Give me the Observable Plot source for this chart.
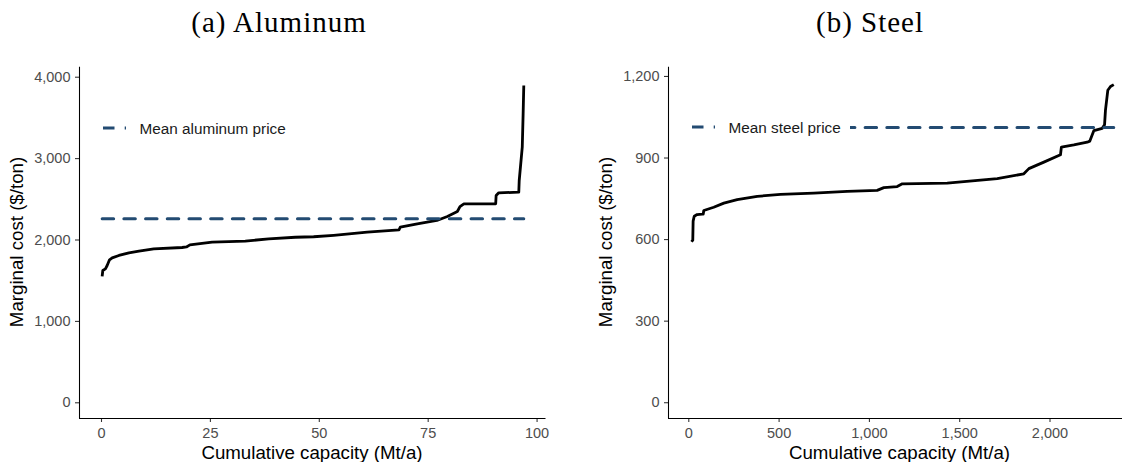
<!DOCTYPE html>
<html><head><meta charset="utf-8">
<script src="https://cdn.jsdelivr.net/npm/d3@7"></script>
<script src="https://cdn.jsdelivr.net/npm/@observablehq/plot@0.6"></script>
<style>
html,body{margin:0;padding:0;background:#fff;overflow:hidden}
#wrap{position:relative;width:1122px;height:462px;overflow:hidden;background:#fff}
#wrap > svg{position:absolute;top:0}
</style></head><body><div id="wrap"></div>
<script>
// ---- data ----
const panelTitles = ["(a) Aluminum", "(b) Steel"];
const xAxisTitle = "Cumulative capacity (Mt/a)";
const yAxisTitle = "Marginal cost ($/ton)";
const legendLabels = ["Mean aluminum price", "Mean steel price"];

const alCapacity = [0.15,0.3,0.9,1.3,1.84,2.45,4,6.3,8.6,12,18.5,19.5,20.3,25.4,33,38.4,44.5,48.7,53.3,61,68.3,68.6,72.5,77,79.4,81.7,82.3,83.2,90.5,90.6,91.2,95.8,95.9,96.6,96.8,96.95];
const alCost     = [1552,1625,1646,1687,1757,1781,1810,1843,1862,1891,1908,1915,1940,1973,1986,2015,2034,2040,2058,2096,2125,2157,2199,2240,2289,2350,2411,2445,2445,2547,2580,2587,2731,3140,3550,3898];
const alMeanPrice = 2260;
const alTicksX = [0,25,50,75,100];
const alTicksY = [0,1000,2000,3000,4000];

const stCapacity = [15,22,24,30,46,74,80,83,138,194,268,379,508,692,877,1043,1080,1154,1182,1431,1708,1855,1883,1966,2058,2063,2132,2206,2220,2243,2289,2302,2307,2320,2335,2353];
const stCost     = [592,598,668,686,692,694,694,707,719,734,747,759,766,771,777,781,791,795,805,808,824,842,861,885,912,940,948,958,962,1001,1009,1022,1075,1149,1163,1170];
const stMeanPrice = 1012;
const stTicksX = [0,500,1000,1500,2000];
const stTicksY = [0,300,600,900,1200];

const lineColor = "#234b72";
const fmt = d3.format(",");

function panel(o) {
  const data = o.cap.map((c, i) => ({x: c, y: o.cost[i]}));
  const mean = [{x: o.cap[0], y: o.mean}, {x: o.cap[o.cap.length - 1], y: o.mean}];
  return Plot.plot({
    width: o.width, height: 462,
    marginLeft: o.marginLeft, marginRight: o.marginRight, marginTop: 66.7, marginBottom: 44,
    style: {background: "transparent", fontFamily: "'Liberation Sans', Arial, sans-serif", overflow: "visible"},
    x: {domain: o.xDomain},
    y: {domain: o.yDomain},
    marks: [
      Plot.axisX({ticks: o.xt, tickFormat: fmt, tickSize: 4, tickPadding: 5, fontSize: 14.5, fill: "#4d4d4d", stroke: "#333", strokeWidth: 1.07, label: null}),
      Plot.axisY({ticks: o.yt, tickFormat: fmt, tickSize: 4, tickPadding: 5, fontSize: 14.5, fill: "#4d4d4d", stroke: "#333", strokeWidth: 1.07, label: null}),
      Plot.ruleX([o.xDomain[0]], {stroke: "black", strokeWidth: 1.07}),
      Plot.ruleY([o.yDomain[0]], {stroke: "black", strokeWidth: 1.07}),
      Plot.line(data, {x: "x", y: "y", stroke: "black", strokeWidth: 2.8, strokeLinejoin: "round", strokeLinecap: "butt"}),
      Plot.line(mean, {x: "x", y: "y", stroke: lineColor, strokeWidth: 3, strokeDasharray: "11.5 10.2"})
    ]
  });
}

const wrap = document.getElementById("wrap");
const p1 = panel({cap: alCapacity, cost: alCost, mean: alMeanPrice, xt: alTicksX, yt: alTicksY,
  xDomain: [-5.05, 102.05], yDomain: [-193, 4123], width: 560, marginLeft: 79, marginRight: 14.5});
p1.style.left = "0px";
wrap.appendChild(p1);
const p2 = panel({cap: stCapacity, cost: stCost, mean: stMeanPrice, xt: stTicksX, yt: stTicksY,
  xDomain: [-112.4, 2401.4], yDomain: [-58, 1234], width: 562, marginLeft: 108, marginRight: 0});
p2.style.left = "560px";
wrap.appendChild(p2);

// ---- overlay texts & legends ----
const ov = d3.select(wrap).append("svg").attr("width", 1122).attr("height", 462)
  .style("left", "0px").style("pointer-events", "none");
const sans = "'Liberation Sans', Arial, sans-serif";
const serif = "'Liberation Serif', 'Times New Roman', serif";
[[279, panelTitles[0]], [870, panelTitles[1]]].forEach(([x, t]) => {
  ov.append("text").attr("x", x).attr("y", 32).attr("text-anchor", "middle")
    .attr("font-family", serif).attr("font-size", 29).attr("letter-spacing", "1px").attr("fill", "#000").text(t);
});
[[312, 458.5], [899.5, 458.5]].forEach(([x, y]) => {
  ov.append("text").attr("x", x).attr("y", y).attr("text-anchor", "middle")
    .attr("font-family", sans).attr("font-size", 18.7).attr("fill", "#000").text(xAxisTitle);
});
[[23, 242], [612, 242]].forEach(([x, y]) => {
  ov.append("text").attr("transform", `translate(${x},${y}) rotate(-90)`).attr("text-anchor", "middle")
    .attr("font-family", sans).attr("font-size", 18.7).attr("fill", "#000").text(yAxisTitle);
});
function legend(x0, y, boxRight, label) {
  ov.append("rect").attr("x", x0 - 6).attr("y", y - 13).attr("width", boxRight - x0 + 6).attr("height", 26).attr("fill", "#fff");
  ov.append("line").attr("x1", x0).attr("x2", x0 + 23).attr("y1", y).attr("y2", y)
    .attr("stroke", lineColor).attr("stroke-width", 3).attr("stroke-dasharray", "11.5 10.2");
  ov.append("text").attr("x", x0 + 36.5).attr("y", y + 5.5).attr("font-family", sans).attr("font-size", 15.3)
    .attr("fill", "#1a1a1a").text(label);
}
legend(103, 128, 300, legendLabels[0]);
legend(692, 127, 850, legendLabels[1]);
</script></body></html>
